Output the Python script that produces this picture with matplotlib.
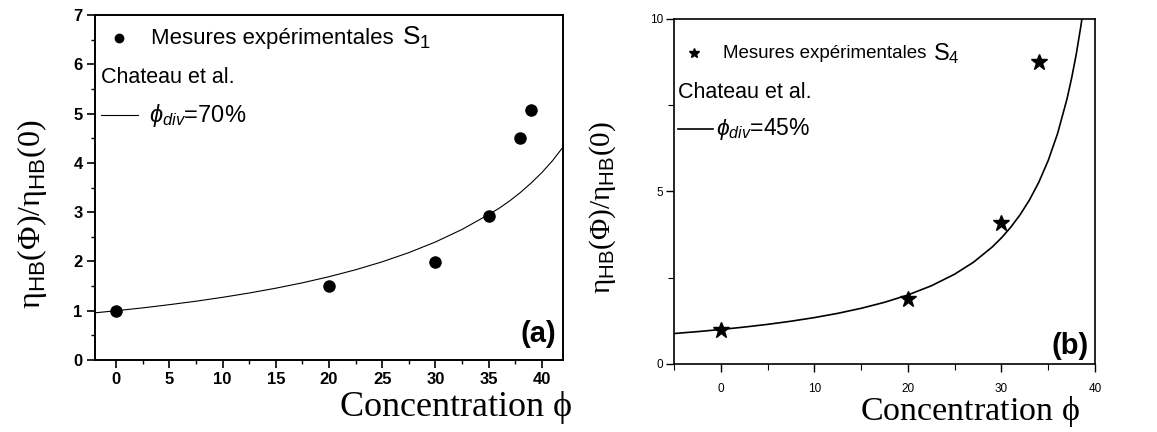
import matplotlib
matplotlib.use("Agg")
import matplotlib.pyplot as plt
from matplotlib.ticker import MultipleLocator

plt.rcParams['font.family'] = ['Liberation Sans', 'DejaVu Sans']
plt.rcParams['mathtext.fontset'] = 'custom'
plt.rcParams['mathtext.rm'] = 'Liberation Serif'
plt.rcParams['mathtext.it'] = 'Liberation Sans:italic'
plt.rcParams['mathtext.sf'] = 'Liberation Sans'
plt.rcParams['mathtext.fallback'] = 'stix'

# Panel (a) : S1, Chateau et al. phi_div = 70 %
s1_conc = [0, 20, 30, 35, 38, 39]
s1_ratio = [1.0, 1.5, 1.98, 2.93, 4.51, 5.07]
fit70_conc = [-2, 0, 2.5, 5, 7.5, 10, 12.5, 15, 17.5, 20, 22.5, 25, 27.5, 30,
              32.5, 35, 36, 37, 38, 39, 40, 41, 42]
fit70_ratio = [0.957, 1.0, 1.058, 1.123, 1.193, 1.272, 1.359, 1.457, 1.566, 1.690,
               1.831, 1.992, 2.178, 2.394, 2.648, 2.95, 3.08, 3.23, 3.40, 3.59,
               3.80, 4.04, 4.32]

# Panel (b) : S4, Chateau et al. phi_div = 45 %
s4_conc = [0, 20, 30, 34]
s4_ratio = [1.0, 1.88, 4.08, 8.76]
fit45_conc = [-5, -2.5, 0, 2.5, 5, 7.5, 10, 12.5, 15, 17.5, 20, 22.5, 25, 27, 29,
              30, 31, 32, 33, 34, 35, 36, 37, 37.5, 38, 38.5, 39]
fit45_ratio = [0.883, 0.938, 1.0, 1.070, 1.149, 1.240, 1.345, 1.468, 1.614, 1.788,
               2.001, 2.266, 2.604, 2.948, 3.388, 3.656, 3.966, 4.329, 4.757,
               5.272, 5.899, 6.680, 7.676, 8.284, 8.986, 9.81, 10.78]

ylabel = r'$\mathrm{\eta}_{\mathsf{HB}}\mathrm{(\Phi)/\eta}_{\mathsf{HB}}\mathrm{(0)}$'
xlabel = r'Concentration $\mathrm{\phi}$'

fig = plt.figure(figsize=(11.57, 4.32), dpi=100)
W, H = 1157, 432

# ---- panel (a)
ax1 = fig.add_axes((95 / W, 1 - 360 / H, (563 - 95) / W, (360 - 15) / H))
ax1.plot(fit70_conc, fit70_ratio, color='black', lw=0.8)
ax1.plot(s1_conc, s1_ratio, 'o', color='black', ms=8, clip_on=False)
ax1.set_xlim(-2, 42)
ax1.set_ylim(0, 7)
ax1.xaxis.set_major_locator(MultipleLocator(5))
ax1.xaxis.set_minor_locator(MultipleLocator(2.5))
ax1.yaxis.set_major_locator(MultipleLocator(1))
ax1.yaxis.set_minor_locator(MultipleLocator(0.5))
ax1.tick_params(which='major', length=6, width=1.2, labelsize=12, pad=3)
ax1.tick_params(which='minor', length=3, width=1.0)
for lab in ax1.get_xticklabels() + ax1.get_yticklabels():
    lab.set_fontweight('bold')
for sp in ax1.spines.values():
    sp.set_linewidth(1.4)

# legend drawn by hand, as in the original
ax1.plot([0.3], [6.53], 'o', color='black', ms=6, clip_on=False)
t1 = ax1.text(3.3, 6.53, 'Mesures expérimentales', fontsize=16, va='center')
ax1.annotate(r'$\mathsf{S_1}$', xy=(1, 0.5), xycoords=t1, xytext=(6, 0),
             textcoords='offset points', fontsize=19, va='center')
ax1.text(-1.4, 5.74, 'Chateau et al.', fontsize=15.5, va='center')
ax1.plot([-1.4, 2.06], [4.97, 4.97], color='black', lw=0.8, clip_on=False)
ax1.text(3.1, 4.97, r'$\mathit{\phi_{div}}$=70%', fontsize=17, va='center')
ax1.text(0.985, 0.035, '(a)', transform=ax1.transAxes, ha='right', va='bottom',
         fontsize=21, fontweight='bold')

fig.text(572 / W, 1 - 416 / H, xlabel, family='Liberation Serif', fontsize=26,
         ha='right', va='baseline')
fig.text(32 / W, 1 - 214 / H, ylabel, fontsize=23, rotation=90,
         ha='center', va='center')

# ---- panel (b)
ax2 = fig.add_axes((674 / W, 1 - 364 / H, (1095 - 674) / W, (364 - 19) / H))
ax2.plot(fit45_conc, fit45_ratio, color='black', lw=1.2)
ax2.plot(s4_conc, s4_ratio, '*', color='black', ms=12, clip_on=False)
ax2.set_xlim(-5, 40)
ax2.set_ylim(0, 10)
ax2.xaxis.set_major_locator(MultipleLocator(10))
ax2.xaxis.set_minor_locator(MultipleLocator(5))
ax2.yaxis.set_major_locator(MultipleLocator(5))
ax2.yaxis.set_minor_locator(MultipleLocator(2.5))
ax2.tick_params(which='major', length=6, width=1.0, labelsize=8.5, pad=2)
ax2.tick_params(axis='x', which='major', pad=8)
ax2.tick_params(which='minor', length=4, width=0.8)
for sp in ax2.spines.values():
    sp.set_linewidth(1.2)

ax2.plot([-2.9], [9.01], '*', color='black', ms=7, clip_on=False)
t2 = ax2.text(0.2, 9.01, 'Mesures expérimentales', fontsize=13.5, va='center')
ax2.annotate(r'$\mathsf{S_4}$', xy=(1, 0.5), xycoords=t2, xytext=(5, 0),
             textcoords='offset points', fontsize=17, va='center')
ax2.text(-4.6, 7.88, 'Chateau et al.', fontsize=15.5, va='center')
ax2.plot([-4.6, -0.85], [6.81, 6.81], color='black', lw=1.2, clip_on=False)
ax2.text(-0.5, 6.81, r'$\mathit{\phi_{div}}$=45%', fontsize=16.5, va='center')
ax2.text(0.985, 0.012, '(b)', transform=ax2.transAxes, ha='right', va='bottom',
         fontsize=21, fontweight='bold')

fig.text(1080 / W, 1 - 420 / H, xlabel, family='Liberation Serif', fontsize=24.5,
         ha='right', va='baseline')
fig.text(603 / W, 1 - 208 / H, ylabel, fontsize=21, rotation=90,
         ha='center', va='center')

fig.savefig('out.png', dpi=100)
